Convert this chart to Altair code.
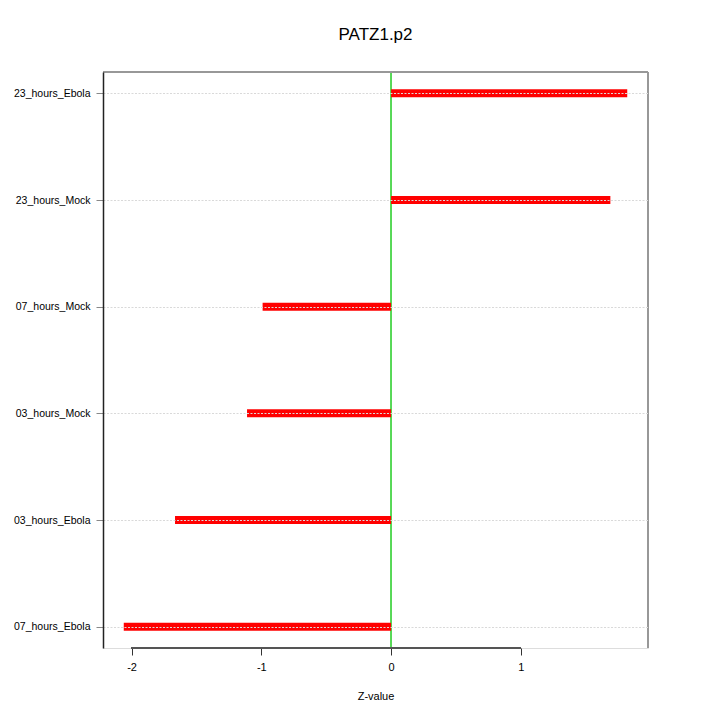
import altair as alt
import pandas as pd

categories = ["23_hours_Ebola", "23_hours_Mock", "07_hours_Mock",
              "03_hours_Mock", "03_hours_Ebola", "07_hours_Ebola"]
values = [1.82, 1.69, -0.99, -1.11, -1.665, -2.06]
x_ticks = [-2, -1, 0, 1]

df = pd.DataFrame({"cat": categories, "z": values, "zero": [0.0] * len(values)})
W, H = 545, 576
FONT = "Liberation Sans"
xdom = [-2.22, 1.98]

yscale = alt.Scale(type="point", domain=categories, padding=0.2)
xscale = alt.Scale(domain=xdom, nice=False, zero=False)

xaxis = alt.Axis(values=x_ticks, title="Z-value", grid=False, domain=False,
                 tickSize=7, tickColor="#333333", labelPadding=6,
                 labelFontSize=11, labelFont=FONT, labelColor="black",
                 labelExpr="replace(format(datum.value, 'd'), '\u2212', '-')",
                 titleFont=FONT, titleFontSize=11, titleFontWeight="normal",
                 titleColor="black", titlePadding=18)
yaxis = alt.Axis(title=None, grid=True, gridDash=[2, 1.5], gridColor="#d9d9d9",
                 gridWidth=1, domain=True, domainColor="#222222", domainWidth=1.5,
                 tickSize=7, tickColor="#888888",
                 labelPadding=6, labelFontSize=10.5, labelFont=FONT,
                 labelColor="black", zindex=1)

zero_line = alt.Chart(df).mark_rule(color="#55d855", strokeWidth=1).encode(
    x=alt.X("zero:Q", scale=xscale, axis=xaxis))

bars = alt.Chart(df).mark_rule(color="#ff0000", strokeWidth=8).encode(
    x=alt.X("zero:Q", scale=xscale, axis=xaxis),
    x2="z:Q",
    y=alt.Y("cat:N", scale=yscale, axis=yaxis),
)

xaxis_line = alt.Chart(df).mark_rule(color="#555555", strokeWidth=2).encode(
    x=alt.datum(x_ticks[0]), x2=alt.datum(x_ticks[-1]), y=alt.value(H))

top_line = alt.Chart(df).mark_rule(color="#999999", strokeWidth=1.5).encode(
    x=alt.value(0), x2=alt.value(W), y=alt.value(0))
right_line = alt.Chart(df).mark_rule(color="#999999", strokeWidth=1.5).encode(
    y=alt.value(0), y2=alt.value(H), x=alt.value(W))

chart = alt.layer(zero_line, bars, xaxis_line, top_line, right_line).properties(
    width=W, height=H,
    title=alt.TitleParams("PATZ1.p2", font=FONT, fontSize=17, fontWeight="normal",
                          anchor="middle", offset=27, color="black"),
    autosize=alt.AutoSizeParams(type="none"),
    padding={"left": 95, "top": 64, "right": 64, "bottom": 64},
).configure_view(stroke="#999999", strokeWidth=1.5).configure(background="white")

chart.save("out.html", embed_options={"renderer": "svg", "actions": False})
